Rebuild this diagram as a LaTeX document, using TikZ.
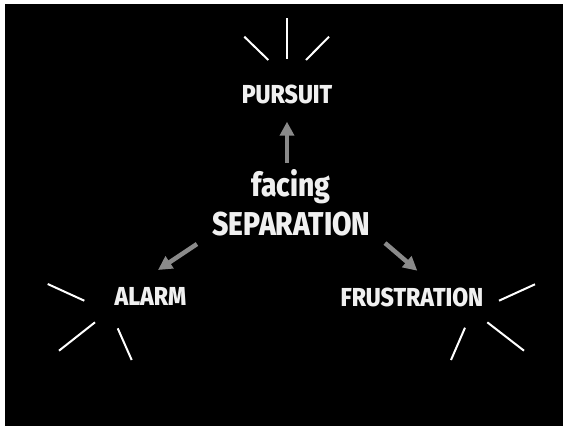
\documentclass[tikz,border=0pt]{standalone}
\usepackage{fontspec}
\usetikzlibrary{arrows.meta}
\newfontfamily\lab[FakeStretch=0.885]{Fira Sans ExtraBold}
\newfontfamily\labbig[FakeStretch=0.855]{Fira Sans ExtraBold}
\definecolor{txt}{HTML}{F0F0F0}
\definecolor{arr}{HTML}{8A8A8A}
\tikzset{
  lbl/.style={text=txt,font=\lab\fontsize{26}{30}\selectfont,inner sep=0pt,anchor=base},
  big/.style={text=txt,font=\labbig\fontsize{33}{39}\selectfont,inner sep=0pt,anchor=base},
  ray/.style={draw=white,line width=2pt},
  conn/.style={draw=arr,line width=4.5pt,-{Triangle[width=14pt,length=14pt]}}
}
\begin{document}
\begin{tikzpicture}[x=1pt,y=-1pt]
\useasboundingbox (0,0) rectangle (563,426);
\fill[white] (0,0) rectangle (563,426);
\fill[black] (5,4) rectangle (563,426);
% labels
\node[lbl] (purs) at (287,103.3) {PURSUIT};
\node[big] (facing) at (291,196) {facing};
\node[big] (sep) at (291.5,235) {SEPARATION};
\node[lbl] (alarm) at (150.5,305.7) {ALARM};
\node[lbl] (frus) at (412,306.5) {FRUSTRATION};
% arrow ends
\coordinate (uS) at (287,163);
\coordinate (uT) at (287,121.7);
\coordinate (lS) at (197,244);
\coordinate (lT) at (158,270);
\coordinate (rS) at (385,243);
\coordinate (rT) at (417.3,270.7);
\draw[conn] (uS) -- (uT);
\draw[conn] (lS) -- (lT);
\draw[conn] (rS) -- (rT);
% rays pursuit
\draw[ray] (287,18) -- (287,59);
\draw[ray] (244.3,36.7) -- (268.3,60);
\draw[ray] (329,36.7) -- (306,60);
% rays alarm
\draw[ray] (47.7,284) -- (84.3,300.7);
\draw[ray] (95,322.3) -- (59,350.7);
\draw[ray] (117.7,328.3) -- (131.7,360);
% rays frustration
\draw[ray] (499,300.7) -- (535,284.3);
\draw[ray] (487.3,322.3) -- (524,350.7);
\draw[ray] (465,327.7) -- (451,360);
\end{tikzpicture}
\end{document}
